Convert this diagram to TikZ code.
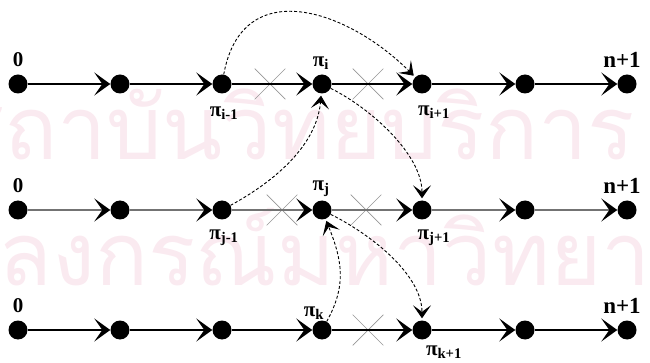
\documentclass[tikz,border=0pt]{standalone}
\usepackage{fontspec}
\setmainfont{Liberation Serif}
\newfontfamily\thaifont[Script=Thai]{Loma}
\usetikzlibrary{arrows.meta,shapes.misc}
\definecolor{wmark}{RGB}{250,234,240}
\definecolor{xgray}{RGB}{150,150,150}
\begin{document}
\begin{tikzpicture}[x=1pt,y=-1pt,
  dot/.style={circle,fill=black,inner sep=0pt,minimum size=19pt},
  link/.style={line width=1.8pt,-{Stealth[length=16pt,width=23pt,inset=8pt,color=black]}},
  hop/.style={line width=0.9pt,dash pattern=on 3pt off 2pt,
    -{Stealth[length=13pt,width=18pt,inset=6.5pt]},shorten >=2pt},
  xmark/.style={cross out,draw=xgray,line width=0.7pt,minimum width=30pt,
    minimum height=30pt,inner sep=0pt},
  lbl/.style={font=\bfseries\fontsize{21}{21}\selectfont,inner sep=0pt},
  endlbl/.style={font=\bfseries\fontsize{23}{23}\selectfont,inner sep=0pt},
  wm/.style={font=\thaifont\fontsize{88}{88}\selectfont,text=wmark,inner sep=0pt}]
\useasboundingbox (0,0) rectangle (650,363);

% background watermark
\node[wm,anchor=base west] (w1) at (4,160) {ถาบันวิทยบริการ};
\node[wm,anchor=base east] (w1s) at (w1.base west) {ส};
\node[wm,anchor=base west] (w2) at (-2,285) {ลงกรณ์มหาวิทยาลัย};
\node[wm,anchor=base east] (w3) at (w2.base west) {จุฬา};

% removed links
\node[xmark] (x11) at (270,84) {};
\node[xmark] (x12) at (368,84) {};
\node[xmark] (x21) at (282,210) {};
\node[xmark] (x22) at (366,210) {};
\node[xmark] (x32) at (368,330) {};

% three routes of seven stops each
\foreach \r/\y in {1/84,2/210,3/330}{
  \foreach \k/\x in {1/18,2/120,3/222,4/322,5/422,6/525,7/627}{
    \node[dot] (r\r n\k) at (\x,\y) {};
  }
}
\foreach \a/\b in {1/2,2/3,3/4,4/5,5/6,6/7}{
  \draw[link] (r1n\a) -- (r1n\b);
  \draw[link,draw=black!55] (r2n\a) -- (r2n\b);
  \draw[link] (r3n\a) -- (r3n\b);
}

% labels
\node[lbl] (l10) at (18,60) {0};
\node[endlbl] (l1e) at (622,60) {n+1};
\node[lbl] (l1a) at (224,113) {π\textsubscript{i-1}};
\node[lbl] (l1b) at (321,63) {π\textsubscript{i}};
\node[lbl] (l1c) at (434,112) {π\textsubscript{i+1}};

\node[lbl] (l20) at (18,186) {0};
\node[endlbl] (l2e) at (622,186) {n+1};
\node[lbl] (l2a) at (224,238) {π\textsubscript{j-1}};
\node[lbl] (l2b) at (321,189) {π\textsubscript{j}};
\node[lbl] (l2c) at (434,238) {π\textsubscript{j+1}};

\node[lbl] (l30) at (18,306) {0};
\node[endlbl] (l3e) at (622,306) {n+1};
\node[lbl] (l3b) at (314,313) {π\textsubscript{k}};
\node[lbl] (l3c) at (444,352) {π\textsubscript{k+1}};

% reinsertion moves
\draw[hop] (r1n3) .. controls +(20,-110) and +(-75,-75) .. (r1n5);
\draw[hop] (r1n4) .. controls +(50,25) and +(0,-55) .. (r2n5);
\draw[hop] (r2n3) .. controls +(55,-30) and +(-5,60) .. (r1n4);
\draw[hop] (r2n4) .. controls +(50,25) and +(0,-55) .. (r3n5);
\draw[hop] (r3n4) .. controls +(25,-45) and +(20,50) .. (r2n4);
\end{tikzpicture}
\end{document}
